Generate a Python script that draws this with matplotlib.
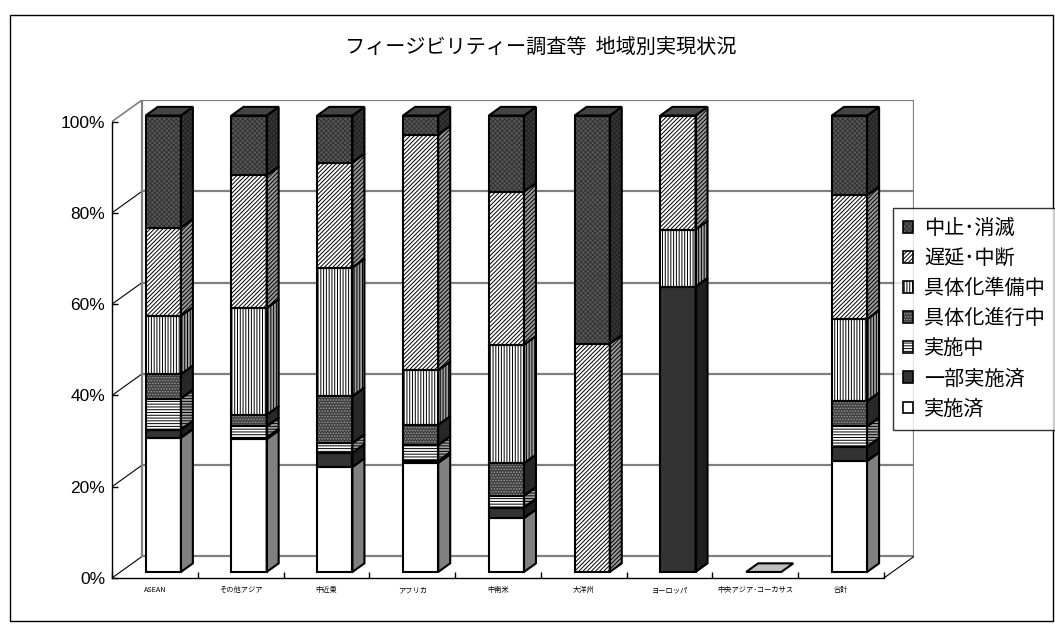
import matplotlib
matplotlib.use('Agg')
import matplotlib.pyplot as plt
from matplotlib.patches import Polygon, Patch, Rectangle
import numpy as np

plt.rcParams['font.family'] = ['Noto Sans CJK JP', 'DejaVu Sans']
plt.rcParams['hatch.linewidth'] = 0.7

# regions (x axis)
regions = ['ASEAN', 'その他アジア', '中近東', 'アフリカ', '中南米', '大洋州',
           'ヨーロッパ', '中央アジア･コーカサス', '合計']

# status shares in percent, bottom to top
jisshi_zumi = [29.4, 29.1, 23.0, 23.9, 11.8, 0, 0, 0, 24.3]
ichibu_zumi = [1.8, 0.3, 3.1, 0.4, 2.3, 0, 62.5, 0, 3.1]
jisshi_chu = [6.8, 2.5, 2.1, 3.5, 2.6, 0, 0, 0, 4.5]
shinko_chu = [5.3, 2.5, 10.3, 4.4, 7.1, 0, 0, 0, 5.5]
junbi_chu = [12.8, 23.4, 28.2, 12.0, 26.0, 0, 12.5, 0, 18.0]
chien = [19.3, 29.1, 23.0, 51.6, 33.5, 50.0, 25.0, 0, 27.1]
chushi = [24.6, 13.1, 10.3, 4.2, 16.7, 50.0, 0, 0, 17.5]

series = [jisshi_zumi, ichibu_zumi, jisshi_chu, shinko_chu, junbi_chu, chien, chushi]
labels = ['実施済', '一部実施済', '実施中', '具体化進行中', '具体化準備中',
          '遅延･中断', '中止･消滅']

# front face, hatch, hatch colour, side face, top face
styles = [
    ('white', None, 'black', '#808080', '#c8c8c8'),
    ('#333333', None, 'black', '#1e1e1e', '#282828'),
    ('white', '------', 'black', '#a0a0a0', '#d0d0d0'),
    ('#404040', '......', '#9a9a9a', '#2a2a2a', '#353535'),
    ('white', '||||||', 'black', '#a0a0a0', '#d0d0d0'),
    ('white', '////////', 'black', '#9a9a9a', '#4a4a4a'),
    ('#585858', 'xxxxxxx', '#333333', '#383838', '#444444'),
]

# fake 3d geometry (data units)
DX, DY = 0.35, 4.72        # full depth of the floor
F0, BD = 0.28, 0.40        # bar front position and bar depth (fractions)
W = 0.41

fig = plt.figure(figsize=(10.55, 6.28), dpi=100)
ax = fig.add_axes([112 / 1055, 50 / 628, 802 / 1055, 478 / 628])
ax.set_xlim(0, 9 + DX)
ax.set_ylim(0, 100 + DY)

# walls and grid
grid_c = '#808080'
for v in [0, 20, 40, 60, 80, 100]:
    ax.plot([DX, 9 + DX], [v + DY, v + DY], color=grid_c, lw=1.6, zorder=1)
    ax.plot([0, DX], [v, v + DY], color=grid_c if v == 100 else 'black',
            lw=1.2 if v == 100 else 0.8, zorder=1)
ax.plot([DX, DX], [DY, 100 + DY], color=grid_c, lw=1.6, zorder=1)
ax.plot([9 + DX, 9 + DX], [DY, 100 + DY], color=grid_c, lw=1.6, zorder=1)
ax.plot([9, 9 + DX], [0, DY], color='black', lw=0.8, zorder=1)

x = np.arange(len(regions)) + 0.5
xf = x + F0 * DX
bdx, bdy = BD * DX, BD * DY
totals = np.sum(series, axis=0)

bottom = np.zeros(len(regions)) + F0 * DY
for k, vals in enumerate(series):
    vals = np.array(vals, dtype=float)
    face, hatch, hc, side, top = styles[k]
    m = vals > 0
    ax.bar(xf[m], vals[m], W, bottom=bottom[m], color=face, edgecolor='none',
           zorder=3)
    if hatch:
        ax.bar(xf[m], vals[m], W, bottom=bottom[m], fill=False, hatch=hatch,
               edgecolor=hc, linewidth=0, zorder=3)
    ax.bar(xf[m], vals[m], W, bottom=bottom[m], fill=False, edgecolor='black',
           linewidth=1.5, zorder=4)
    for i in np.where(m)[0]:
        xr = xf[i] + W / 2
        xl = xf[i] - W / 2
        y0, y1 = bottom[i], bottom[i] + vals[i]
        pts = [(xr, y0), (xr + bdx, y0 + bdy), (xr + bdx, y1 + bdy), (xr, y1)]
        ax.add_patch(Polygon(pts, closed=True, facecolor=side,
                             edgecolor='none', zorder=3))
        if hatch:
            ax.add_patch(Polygon(pts, closed=True, fill=False, hatch=hatch,
                                 edgecolor='black' if hc == 'black' else '#222222',
                                 linewidth=0, zorder=3))
        ax.add_patch(Polygon(pts, closed=True, fill=False, edgecolor='black',
                             linewidth=1.5, zorder=4))
        # top face on the highest segment
        if np.isclose(bottom[i] + vals[i] - F0 * DY, totals[i]):
            tp = [(xl, y1), (xl + bdx, y1 + bdy), (xr + bdx, y1 + bdy), (xr, y1)]
            ax.add_patch(Polygon(tp, closed=True, facecolor=top,
                                 edgecolor='black', linewidth=1.5, zorder=4))
    bottom = bottom + vals

# empty category: flat plate on the floor
for i in np.where(totals == 0)[0]:
    xl, xr = xf[i] - W / 2, xf[i] + W / 2
    y1 = F0 * DY
    tp = [(xl, y1), (xl + bdx, y1 + bdy), (xr + bdx, y1 + bdy), (xr, y1)]
    ax.add_patch(Polygon(tp, closed=True, facecolor='#c0c0c0',
                         edgecolor='black', linewidth=1.5, zorder=4))

# axes
for s in ['top', 'right']:
    ax.spines[s].set_visible(False)
ax.spines['left'].set_bounds(0, 100)
ax.spines['bottom'].set_bounds(0, 9)
ax.spines['left'].set_linewidth(1.0)
ax.spines['bottom'].set_linewidth(1.0)
ax.set_yticks([0, 20, 40, 60, 80, 100])
ax.set_yticklabels(['0%', '20%', '40%', '60%', '80%', '100%'],
                   family='Liberation Sans', fontsize=12.5)
ax.tick_params(axis='y', direction='in', length=4, width=1, pad=5)
ax.set_xticks(np.arange(0, 10))
ax.set_xticklabels([])
ax.set_xticks(x, minor=True)
ax.set_xticklabels(regions, minor=True, fontsize=5.2)
ax.tick_params(axis='x', which='major', direction='in', length=4, width=1)
ax.tick_params(axis='x', which='minor', length=0, pad=6)

fig.text(541 / 1055, 1 - 47 / 628, 'フィージビリティー調査等  地域別実現状況',
         ha='center', va='center', fontsize=14.5)

# legend (top entry first)
handles = []
for k in range(len(series) - 1, -1, -1):
    face, hatch, hc, side, top = styles[k]
    parts = [Patch(facecolor=face, edgecolor='none')]
    if hatch:
        parts.append(Patch(fill=False, hatch=hatch, edgecolor=hc, linewidth=0))
    parts.append(Patch(fill=False, edgecolor='black', linewidth=1.2))
    handles.append(tuple(parts))
leg = fig.legend(handles, labels[::-1], loc='upper left',
                 bbox_to_anchor=(893 / 1055, 1 - 208 / 628), fontsize=14.5,
                 frameon=True, fancybox=False, edgecolor='black',
                 handlelength=0.5, handleheight=0.5, handletextpad=0.55,
                 labelspacing=0.45, borderpad=0.5, borderaxespad=0)
leg.get_frame().set_linewidth(1.0)

# outer chart border
fig.patches.append(Rectangle((10 / 1055, 7 / 628), 1043 / 1055, 606 / 628,
                             transform=fig.transFigure, fill=False,
                             edgecolor='black', linewidth=1.0))

fig.savefig('out.png', dpi=100)
